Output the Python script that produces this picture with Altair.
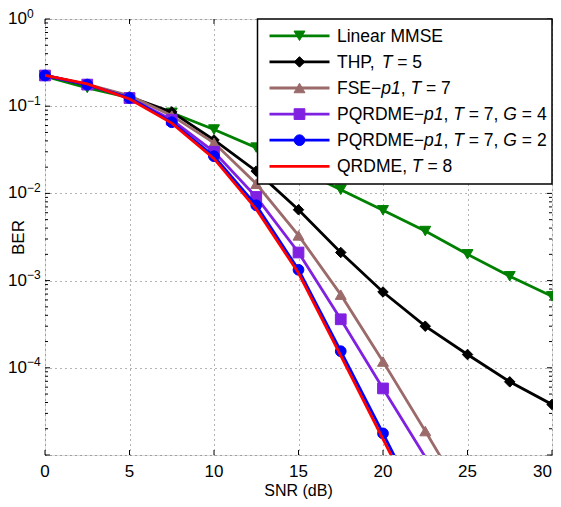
import altair as alt
import pandas as pd

# ---------------- data ----------------
snr = [0, 2.5, 5, 7.5, 10, 12.5, 15, 17.5, 20, 22.5, 25, 27.5, 30]

ber_mmse = [0.22, 0.162, 0.125, 0.084, 0.054, 0.0335, 0.019, 0.011, 0.0064, 0.0037, 0.0020, 0.00112, 0.00066]
ber_thp = [0.225, 0.175, 0.128, 0.086, 0.041, 0.018, 0.0065, 0.0021, 0.00074, 0.0003, 0.000142, 0.000069, 0.000038]
ber_fse = [0.225, 0.178, 0.132, 0.078, 0.038, 0.0129, 0.0033, 0.00069, 0.000118, 0.0000188, 0.0000029]
ber_pq4 = [0.225, 0.177, 0.124, 0.070, 0.030, 0.0091, 0.0021, 0.00036, 0.000058, 0.0000095]
ber_pq2 = [0.225, 0.177, 0.1245, 0.0655, 0.0267, 0.0073, 0.00133, 0.000155, 0.0000177, 0.00000195]
ber_qrd = [0.226, 0.18, 0.121, 0.064, 0.025, 0.0066, 0.00122, 0.000138, 0.0000152, 0.0000017]

names = ["Linear MMSE", "THP, T = 5", "FSE−p1, T = 7",
         "PQRDME−p1, T = 7, G = 4", "PQRDME−p1, T = 7, G = 2", "QRDME, T = 8"]
series_values = [ber_mmse, ber_thp, ber_fse, ber_pq4, ber_pq2, ber_qrd]
colors = ["#008000", "#000000", "#9B6A6A", "#8020E0", "#0000FF", "#FF0000"]
shapes = ["triangle-down", "diamond", "triangle-up", "square", "circle", None]
sizes = [120, 110, 120, 115, 115, 0]

# legend label pieces: (text, italic)
label_parts = [
    [("Linear MMSE", 0)],
    [("THP, ", 0), ("T", 1), (" = 5", 0)],
    [("FSE−", 0), ("p1", 1), (", ", 0), ("T", 1), (" = 7", 0)],
    [("PQRDME−", 0), ("p1", 1), (", ", 0), ("T", 1), (" = 7, ", 0), ("G", 1), (" = 4", 0)],
    [("PQRDME−", 0), ("p1", 1), (", ", 0), ("T", 1), (" = 7, ", 0), ("G", 1), (" = 2", 0)],
    [("QRDME, ", 0), ("T", 1), (" = 8", 0)],
]

x_title = "SNR (dB)"
y_title = "BER"
x_ticks = [0, 5, 10, 15, 20, 25, 30]
y_major = [1, 0.1, 0.01, 0.001, 0.0001, 0.00001]
y_label_vals = [1, 0.1, 0.01, 0.001, 0.0001]
y_label_exp = ["0", "−1", "−2", "−3", "−4"]
y_minor = [k * 10.0 ** e for e in range(-5, 0) for k in range(2, 10)]

# ---------------- layout ----------------
W, H = 507, 436
FONT = "Liberation Sans"
FS = 17
LFS = 17.5

xscale = alt.Scale(domain=[0, 30], nice=False, zero=False)
yscale = alt.Scale(type="log", domain=[1e-5, 1], nice=False)

xaxis = alt.Axis(values=x_ticks, title=None, grid=True, gridDash=[1, 4], gridColor="#444",
                 gridOpacity=0.8, ticks=False, domain=False, labels=False)
yaxis = alt.Axis(values=y_major, title=y_title, grid=True, gridDash=[1, 4], gridColor="#444",
                 gridOpacity=0.8, ticks=False, domain=False, labels=False, titleFont=FONT,
                 titleFontSize=FS, titleFontWeight="normal", titleColor="black", titlePadding=18)


def X(f):
    return alt.X(f, type="quantitative", scale=xscale, axis=xaxis)


def Y(f):
    return alt.Y(f, type="quantitative", scale=yscale, axis=yaxis)


layers = []

# axis frame ticks (inward)
tick_x = pd.DataFrame({"x": x_ticks})
layers.append(alt.Chart(tick_x).mark_rule(color="black", strokeWidth=1).encode(
    x=X("x"), y=alt.value(H), y2=alt.value(H - 5)))
layers.append(alt.Chart(tick_x).mark_rule(color="black", strokeWidth=1).encode(
    x=X("x"), y=alt.value(0), y2=alt.value(5)))
maj = pd.DataFrame({"v": y_major})
lab = pd.DataFrame({"v": y_label_vals, "e": y_label_exp})
mnr = pd.DataFrame({"v": y_minor})
layers.append(alt.Chart(maj).mark_rule(color="black", strokeWidth=1).encode(
    y=Y("v"), x=alt.value(0), x2=alt.value(5)))
layers.append(alt.Chart(maj).mark_rule(color="black", strokeWidth=1).encode(
    y=Y("v"), x=alt.value(W - 5), x2=alt.value(W)))
layers.append(alt.Chart(mnr).mark_rule(color="black", strokeWidth=1).encode(
    y=Y("v"), x=alt.value(0), x2=alt.value(3)))
layers.append(alt.Chart(mnr).mark_rule(color="black", strokeWidth=1).encode(
    y=Y("v"), x=alt.value(W - 3), x2=alt.value(W)))

# x tick labels and title
layers.append(alt.Chart(tick_x).transform_filter("datum.x < 30").mark_text(
    align="center", baseline="alphabetic", font=FONT, fontSize=FS, color="black").encode(
    x=X("x"), y=alt.value(H + 22), text="x:Q"))
layers.append(alt.Chart(tick_x).transform_filter("datum.x >= 30").mark_text(
    align="right", baseline="alphabetic", font=FONT, fontSize=FS, color="black").encode(
    x=X("x"), y=alt.value(H + 22), text="x:Q"))
layers.append(alt.Chart(pd.DataFrame({"t": [x_title]})).mark_text(
    align="center", baseline="alphabetic", font=FONT, fontSize=16, color="black").encode(
    x=alt.value(W / 2), y=alt.value(H + 40.5), text="t:N"))

# y tick labels 10^k
layers.append(alt.Chart(lab).mark_text(align="right", baseline="middle", font=FONT,
                                        fontSize=FS, color="black").encode(
    y=Y("v"), x=alt.value(-18), text=alt.value("10")))
layers.append(alt.Chart(lab).mark_text(align="left", baseline="alphabetic", font=FONT,
                                        fontSize=12, color="black", dy=-1.5).encode(
    y=Y("v"), x=alt.value(-18), text="e:N"))

# series
for name, vals, col, shp, sz in zip(names, series_values, colors, shapes, sizes):
    df = pd.DataFrame({"snr": snr[:len(vals)], "ber": vals})
    layers.append(alt.Chart(df).mark_line(color=col, strokeWidth=2.8, clip=True).encode(
        x=X("snr"), y=Y("ber")))
    if shp:
        layers.append(alt.Chart(df).transform_filter("datum.ber >= 1e-5").mark_point(
            shape=shp, filled=True, color=col, size=sz, opacity=1, stroke=col, strokeWidth=1).encode(
            x=X("snr"), y=Y("ber")))

# legend
ARIAL = {' ': 278, ',': 278, '=': 584, '−': 584, 'A': 667, 'B': 667, 'C': 722, 'D': 722,
         'E': 667, 'F': 611, 'G': 778, 'H': 722, 'I': 278, 'L': 556, 'M': 833, 'N': 722,
         'P': 667, 'Q': 778, 'R': 722, 'S': 667, 'T': 611, 'a': 556, 'e': 556, 'i': 222,
         'n': 556, 'p': 556, 'r': 333}


def tw(s):
    return sum(ARIAL.get(c, 556) for c in s) * LFS / 1000.0


one = pd.DataFrame({"d": [0]})
LX0, LX1 = 212.5, W
layers.append(alt.Chart(one).mark_rect(fill="white", stroke="black", strokeWidth=1.5).encode(
    x=alt.value(LX0), x2=alt.value(LX1), y=alt.value(0), y2=alt.value(165)))
for i in range(len(names)):
    ry = 16.8 + 26.1 * i
    col = colors[i]
    layers.append(alt.Chart(one).mark_rule(color=col, strokeWidth=2.8).encode(
        x=alt.value(224.5), x2=alt.value(284.5), y=alt.value(ry)))
    if shapes[i]:
        layers.append(alt.Chart(one).mark_point(shape=shapes[i], filled=True, color=col,
                                                size=sizes[i], opacity=1, stroke=col,
                                                strokeWidth=1).encode(
            x=alt.value(254.5), y=alt.value(ry)))
    cx = 292.0
    for txt, it in label_parts[i]:
        lead = len(txt) - len(txt.lstrip(" "))
        s = txt.strip(" ")
        layers.append(alt.Chart(one).mark_text(
            align="left", baseline="middle", font=FONT, fontSize=LFS, color="black",
            fontStyle="italic" if it else "normal").encode(
            x=alt.value(cx + tw(" " * lead)), y=alt.value(ry + 1), text=alt.value(s)))
        cx += tw(txt)

chart = alt.layer(*layers).properties(
    width=W, height=H,
    autosize=alt.AutoSizeParams(type="none"),
    padding={"left": 37, "top": 11, "right": 1, "bottom": 44},
).configure_view(stroke="black", strokeWidth=1.5).configure(background="white")

chart.save("out.html", embed_options={"renderer": "svg", "actions": False})
